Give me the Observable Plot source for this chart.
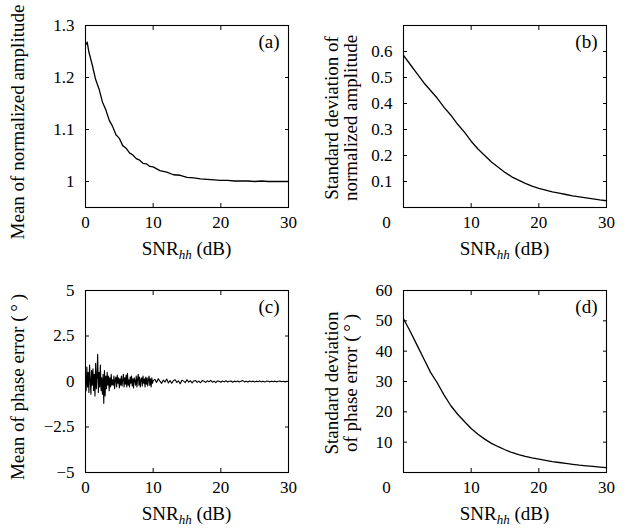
<!DOCTYPE html>
<html><head><meta charset="utf-8">
<script src="https://cdn.jsdelivr.net/npm/d3@7"></script>
<script src="https://cdn.jsdelivr.net/npm/@observablehq/plot@0.6"></script>
<style>
body{margin:0;background:#fff;}
#wrap{position:relative;width:636px;height:529px;background:#fff;font-family:"Liberation Serif","Times New Roman",serif;}
.panel{position:absolute;}
.panel svg, .panel svg text{font-family:"Liberation Serif","Times New Roman",serif !important;}
.panel svg g[aria-label*="tick label"], .panel svg g[aria-label*="tick label"] text{font-size:17px !important;}
</style></head><body><div id="wrap"></div>
<script>
// ---- data ----
const X_TICKS = [0, 10, 20, 30];

// (a) mean of normalized amplitude
const SNR_A = [0,0.25,0.5,1,1.5,2,2.5,3,3.5,4,4.5,5,5.5,6,6.5,7,7.5,8,8.5,9,9.5,10,11,12,13,14,15,16,17,18,19,20,21,22,23,24,25,26,27,28,29,30];
const MEAN_AMP = [1.262,1.268,1.249,1.224,1.196,1.178,1.153,1.138,1.118,1.106,1.09,1.083,1.069,1.064,1.055,1.051,1.044,1.041,1.035,1.034,1.029,1.028,1.021,1.018,1.013,1.012,1.008,1.007,1.005,1.004,1.003,1.002,1.002,1.001,1.001,1.001,1.000,1.001,1.000,1.000,1.000,1.000];
const A_TICKS = [1, 1.1, 1.2, 1.3];

// (b) std of normalized amplitude
const SNR_B = [0,1,2,3,4,5,6,7,8,9,10,11,12,13,14,15,16,17,18,19,20,21,22,23,24,25,26,27,28,29,30];
const STD_AMP = [0.585,0.55,0.515,0.48,0.45,0.42,0.385,0.355,0.32,0.29,0.255,0.225,0.2,0.175,0.155,0.135,0.118,0.105,0.093,0.082,0.074,0.067,0.06,0.055,0.05,0.045,0.041,0.037,0.033,0.029,0.026];
const B_TICKS = [0.1, 0.2, 0.3, 0.4, 0.5, 0.6];

// (c) mean of phase error (deg); sample grid 0-4 by 0.1, 4.1-10 by 0.1, 10.25-30 by 0.25
const SNR_C = [...d3.range(0, 4.05, 0.1), ...d3.range(4.1, 10.05, 0.1), ...d3.range(10.25, 30.05, 0.25)];
const MEAN_PHASE = [
  0.3,-0.5,0.8,-0.3,0.5,-0.6,0.9,0.1,-0.7,0.6,-0.2,0.7,-0.5,0.4,-0.8,1.0,-0.4,0.3,1.5,-0.6,0.5,-0.3,0.9,-0.5,0.2,-0.7,0.4,-1.2,0.6,-0.8,0.3,-0.4,0.5,-0.2,0.3,-0.5,0.2,-0.3,0.4,-0.2,0.1,
  -0.2,0.3,-0.4,0.1,0.25,-0.3,0.35,-0.1,0.2,-0.35,
  0.15,-0.2,0.3,-0.25,0.1,0.4,-0.3,0.2,-0.15,0.35,
  -0.3,0.45,-0.2,0.1,-0.3,0.25,-0.1,0.3,-0.25,0.15,
  -0.35,0.2,0.05,-0.2,0.3,-0.3,0.15,0.4,-0.2,0.25,
  -0.3,0.1,0.2,-0.25,0.3,-0.1,0.15,-0.3,0.25,-0.15,
  0.2,-0.25,0.1,0.3,-0.2,0.15,-0.3,0.2,-0.1,0.05,
  0.12,-0.05,0.15,0.02,-0.1,0.08,-0.03,0.14,-0.08,0.05,
  -0.1,0.06,0.1,-0.05,0.03,-0.12,0.07,0.02,-0.06,0.1,
  -0.04,0.05,-0.08,0.03,0.06,-0.05,0.02,-0.07,0.05,0.01,
  -0.05,0.04,-0.02,0.06,-0.04,0.02,-0.06,0.03,0.01,-0.04,
  0.03,-0.02,0.04,-0.03,0.01,0.03,-0.04,0.02,-0.01,0.03,
  -0.03,0.02,0.05,-0.02,0.01,-0.03,0.03,-0.01,0.02,-0.03,
  0.02,-0.01,0.03,-0.02,0.01,-0.03,0.02,0.01,-0.02,0.02,
  -0.01,0.02,-0.02,0.01,0.02,-0.01,0.01,-0.02,0.01,0.0];
const C_TICKS = [-5, -2.5, 0, 2.5, 5];

// (d) std of phase error (deg)
const SNR_D = [0,1,2,3,4,5,6,7,8,9,10,11,12,13,14,15,16,17,18,19,20,21,22,23,24,25,26,27,28,29,30];
const STD_PHASE = [50.7,46.5,42,37.5,33,29.5,25.5,22,19.2,16.8,14.5,12.6,11,9.6,8.5,7.5,6.6,5.9,5.3,4.8,4.4,4.0,3.6,3.3,3.0,2.7,2.4,2.2,2.0,1.8,1.6];
const D_TICKS = [10, 20, 30, 40, 50, 60];

const TAGS = ["(a)", "(b)", "(c)", "(d)"];
const YLABELS = [
  ["Mean of normalized amplitude"],
  ["Standard deviation of", "normalized amplitude"],
  ["Mean of phase error (\u2009°\u2009)"],
  ["Standard deviation", "of phase error (\u2009°\u2009)"]
];

// ---- drawing ----
const FONT = "Liberation Serif, Times New Roman, serif";
const W = 318, H = 264, ML = 85, MR = 30, MT = 25, MB = 57;
const fmt = d => String(d).replace("-", "\u2212");
const blank = () => "";

function panel({left, top, xs, ys, yDomain, yTicks, tag, ylabel, zeroShift, sw}) {
  const data = xs.map((x, i) => ({x, y: ys[i]}));
  const xLab = zeroShift ? X_TICKS.slice(1) : X_TICKS;
  const marks = [
    Plot.axisX(xLab, {anchor: "bottom", tickSize: 0, tickPadding: 8, tickFormat: fmt, label: null}),
    Plot.axisX(X_TICKS.slice(1, 3), {anchor: "bottom", tickSize: -4, tickFormat: blank, label: null}),
    Plot.axisX(X_TICKS.slice(1, 3), {anchor: "top", tickSize: -4, tickFormat: blank, label: null}),
    Plot.axisY(yTicks, {anchor: "left", tickSize: 0, tickPadding: 11, tickFormat: fmt, label: null}),
    Plot.axisY(yTicks, {anchor: "left", tickSize: -4, tickFormat: blank, label: null}),
    Plot.axisY(yTicks, {anchor: "right", tickSize: -4, tickFormat: blank, label: null}),
    Plot.line(data, {x: "x", y: "y", stroke: "black", strokeWidth: sw || 1.3}),
    Plot.frame({stroke: "black", strokeWidth: 1.1}),
    Plot.text([tag], {frameAnchor: "top-right", dx: -9, dy: 22, lineAnchor: "bottom", fontSize: 19, fill: "black"})
  ];
  if (zeroShift) marks.push(Plot.axisX([0], {anchor: "bottom", tickSize: 0, tickPadding: 8, tickFormat: fmt, label: null, dx: zeroShift}));
  const svg = Plot.plot({
    width: W, height: H,
    marginLeft: ML, marginRight: MR, marginTop: MT, marginBottom: MB,
    style: {fontFamily: FONT, fontSize: "17px", background: "white", color: "black"},
    x: {domain: [0, 30]},
    y: {domain: yDomain},
    marks
  });
  const s = d3.select(svg);
  // x label with italic subscript
  const xl = s.append("text").attr("x", (ML + W - MR) / 2).attr("y", 255)
    .attr("text-anchor", "middle").attr("font-size", 19).attr("fill", "black").attr("font-family", FONT);
  xl.append("tspan").text("SNR");
  xl.append("tspan").attr("font-style", "italic").attr("font-size", 13).attr("dy", 4).text("hh");
  xl.append("tspan").attr("dy", -4).text(" (dB)");
  // y label (one or two lines)
  const yc = (MT + H - MB) / 2 + (ylabel.length === 1 ? 6 : 2);
  const baseX = ylabel.length === 1 ? [24] : [20, 39];
  ylabel.forEach((line, i) => {
    s.append("text").attr("transform", `translate(${baseX[i]},${yc}) rotate(-90)`)
      .attr("text-anchor", "middle").attr("font-size", 19).attr("fill", "black")
      .attr("font-family", FONT).text(line);
  });
  const div = document.createElement("div");
  div.className = "panel";
  div.style.left = left + "px";
  div.style.top = top + "px";
  div.appendChild(svg);
  document.getElementById("wrap").appendChild(div);
}

panel({left: 0, top: 0, xs: SNR_A, ys: MEAN_AMP, yDomain: [0.95, 1.3], yTicks: A_TICKS, tag: TAGS[0], ylabel: YLABELS[0]});
panel({left: 318, top: 0, xs: SNR_B, ys: STD_AMP, yDomain: [0, 0.7], yTicks: B_TICKS, tag: TAGS[1], ylabel: YLABELS[1], zeroShift: -17});
panel({left: 0, top: 265, xs: SNR_C, ys: MEAN_PHASE, yDomain: [-5, 5], yTicks: C_TICKS, tag: TAGS[2], ylabel: YLABELS[2], sw: 1.1});
panel({left: 318, top: 265, xs: SNR_D, ys: STD_PHASE, yDomain: [0, 60], yTicks: D_TICKS, tag: TAGS[3], ylabel: YLABELS[3], zeroShift: -17});
</script></body></html>
